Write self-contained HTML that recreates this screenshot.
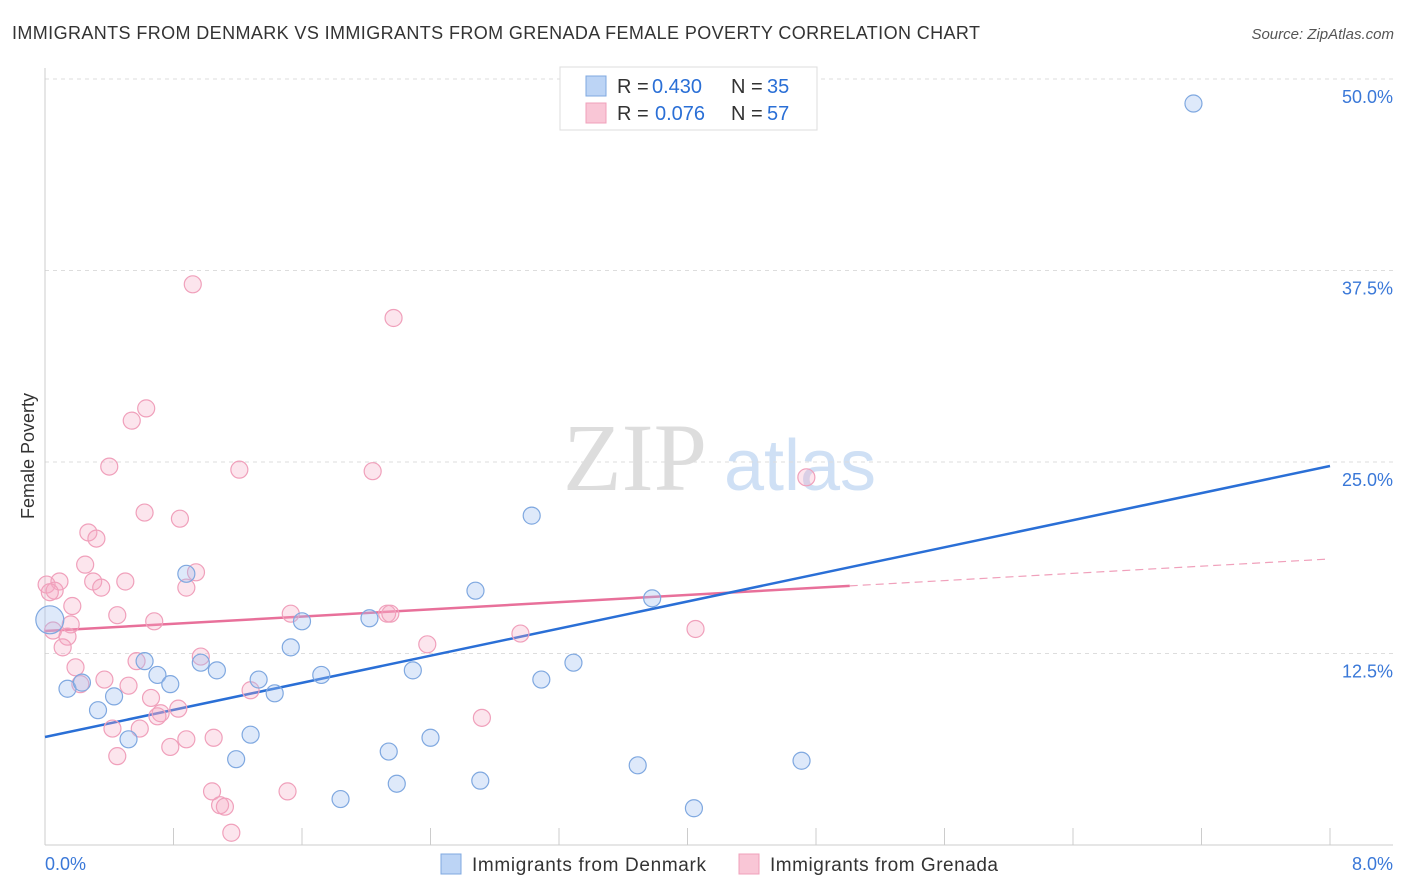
<!DOCTYPE html>
<html><head><meta charset="utf-8"><style>
body{margin:0;background:#fff;font-family:"Liberation Sans",sans-serif;}
svg{display:block}
</style></head><body>
<svg id="chart" width="1406" height="892">
<text x="12" y="39" font-size="18" fill="#333" textLength="968">IMMIGRANTS FROM DENMARK VS IMMIGRANTS FROM GRENADA FEMALE POVERTY CORRELATION CHART</text>
<text x="1394" y="39" font-size="15" fill="#555" font-style="italic" text-anchor="end">Source: ZipAtlas.com</text>
<text x="34" y="456" font-size="18" fill="#333" text-anchor="middle" transform="rotate(-90 34 456)">Female Poverty</text>
<g><text x="635" y="490" font-size="96" fill="#ddd" font-family="Liberation Serif,serif" text-anchor="middle">ZIP</text><text x="800" y="490" font-size="72" fill="#cfe0f5" text-anchor="middle">atlas</text></g>
<g id="grid"></g><g id="axes"></g><g id="lines"></g><g id="points"></g>
<g>
<rect x="560" y="67" width="257" height="63" fill="#fff" stroke="#ddd"/>
<rect x="586" y="76" width="20" height="20" fill="#bcd4f5" stroke="#7fa8e0"/>
<rect x="586" y="103" width="20" height="20" fill="#f9c6d6" stroke="#f0a0bb"/>
<text x="617" y="93" font-size="20" fill="#333">R =</text><text x="652" y="93" font-size="20" fill="#2a6fd6">0.430</text>
<text x="731" y="93" font-size="20" fill="#333">N =</text><text x="767" y="93" font-size="20" fill="#2a6fd6">35</text>
<text x="617" y="120" font-size="20" fill="#333">R =</text><text x="655" y="120" font-size="20" fill="#2a6fd6">0.076</text>
<text x="731" y="120" font-size="20" fill="#333">N =</text><text x="767" y="120" font-size="20" fill="#2a6fd6">57</text>
</g>
<g>
<rect x="441" y="854" width="20" height="20" fill="#bcd4f5" stroke="#7fa8e0"/>
<text x="472" y="871" font-size="19" fill="#333" textLength="234">Immigrants from Denmark</text>
<rect x="739" y="854" width="20" height="20" fill="#f9c6d6" stroke="#f0a0bb"/>
<text x="770" y="871" font-size="19" fill="#333" textLength="228">Immigrants from Grenada</text>
</g>
</svg>
<script>
const yTicks=[12.5,25,37.5,50];
const yTickLabels=["12.5%","25.0%","37.5%","50.0%"];
const xTickCount=10;
const denmarkX=[7.15,3.03,0.88,2.68,3.78,1.60,2.02,1.53,3.29,0.62,0.97,1.07,0.70,1.72,2.29,1.33,3.09,0.78,0.14,0.23,1.43,0.43,0.33,1.28,0.52,2.40,2.14,1.19,3.69,4.71,2.71,2.19,1.84,4.04,0.03];
const denmarkY=[48.4,21.5,17.7,16.6,16.1,14.6,14.8,12.9,11.9,12.0,11.9,11.4,11.1,11.1,11.4,10.8,10.8,10.5,10.2,10.6,9.9,9.7,8.8,7.2,6.9,7.0,6.1,5.6,5.2,5.5,4.2,4.0,3.0,2.4,14.7];
const grenadaX=[0.92,2.17,0.63,0.54,0.40,1.21,2.04,4.74,0.62,0.84,0.27,0.32,0.25,0.94,0.01,0.09,0.30,0.50,0.06,0.03,0.35,0.88,0.17,0.45,1.53,2.13,2.15,0.68,0.16,0.05,0.14,2.96,4.05,2.38,0.11,0.97,0.57,0.19,0.37,0.22,0.52,1.28,0.66,0.83,0.72,0.70,2.72,0.42,0.59,1.05,0.88,0.78,0.45,1.04,1.51,1.09,1.12,1.16];
const grenadaY=[36.6,34.4,28.5,27.7,24.7,24.5,24.4,24.0,21.7,21.3,20.4,20.0,18.3,17.8,17.0,17.2,17.2,17.2,16.6,16.5,16.8,16.8,15.6,15.0,15.1,15.1,15.1,14.6,14.4,14.0,13.6,13.8,14.1,13.1,12.9,12.3,12.0,11.6,10.8,10.5,10.4,10.1,9.6,8.9,8.6,8.4,8.3,7.6,7.6,7.0,6.9,6.4,5.8,3.5,3.5,2.6,2.5,0.8];
const blueLine=[7.05,24.74];
const pinkLine=[13.97,18.67];
const pinkSolidEnd=5.01;

const NS="http://www.w3.org/2000/svg";
const X=v=>45+v/8*1285, Y=v=>845-v*15.32;
function mk(p,t,a){const e=document.createElementNS(NS,t);for(const k in a)e.setAttribute(k,a[k]);document.getElementById(p).appendChild(e);return e;}
yTicks.forEach((t,i)=>{
  const g=mk('grid','line',{x1:45,x2:1393,y1:Y(t),y2:Y(t),stroke:'#ddd','stroke-dasharray':'4,4'});
  
  
  const l=mk('grid','text',{x:1393,y:Y(t)+24,'font-size':18,fill:'#3a78d8','text-anchor':'end'});
  l.textContent=yTickLabels[i];
  
  
});
let ax=mk('axes','line',{x1:45,x2:45,y1:68,y2:845,stroke:'#ccc'});


ax=mk('axes','line',{x1:45,x2:1393,y1:845,y2:845,stroke:'#ccc'});


for(let i=0;i<=xTickCount;i++){const v=8*i/xTickCount;
  const t=mk('axes','line',{x1:X(v),x2:X(v),y1:828,y2:845,stroke:'#ccc'});
  
  }
let tl=mk('axes','text',{x:45,y:870,'font-size':18,fill:'#3a78d8'});tl.textContent='0.0%';


tl=mk('axes','text',{x:1393,y:870,'font-size':18,fill:'#3a78d8','text-anchor':'end'});tl.textContent='8.0%';


grenadaX.forEach((x,i)=>{const c=mk('points','circle',{cx:X(x),cy:Y(grenadaY[i]),r:8.5,fill:'rgba(246,168,196,0.3)',stroke:'#f0a0bb','stroke-width':1.2});
  
  });
denmarkX.forEach((x,i)=>{const c=mk('points','circle',{cx:X(x),cy:Y(denmarkY[i]),r:(i==denmarkX.length-1?14:8.5),fill:'rgba(160,192,240,0.35)',stroke:'#7fa8e0','stroke-width':1.2});
  
  });
const py=x=>pinkLine[0]+(pinkLine[1]-pinkLine[0])*x/8;
let ln=mk('lines','line',{x1:X(0),y1:Y(pinkLine[0]),x2:X(pinkSolidEnd),y2:Y(py(pinkSolidEnd)),stroke:'#e8709a','stroke-width':2.5});


ln=mk('lines','line',{x1:X(pinkSolidEnd),y1:Y(py(pinkSolidEnd)),x2:X(8),y2:Y(pinkLine[1]),stroke:'#f0a0bb','stroke-width':1.2,'stroke-dasharray':'8,5'});


ln=mk('lines','line',{x1:X(0),y1:Y(blueLine[0]),x2:X(8),y2:Y(blueLine[1]),stroke:'#2a6fd6','stroke-width':2.5});


</script>
</body></html>
